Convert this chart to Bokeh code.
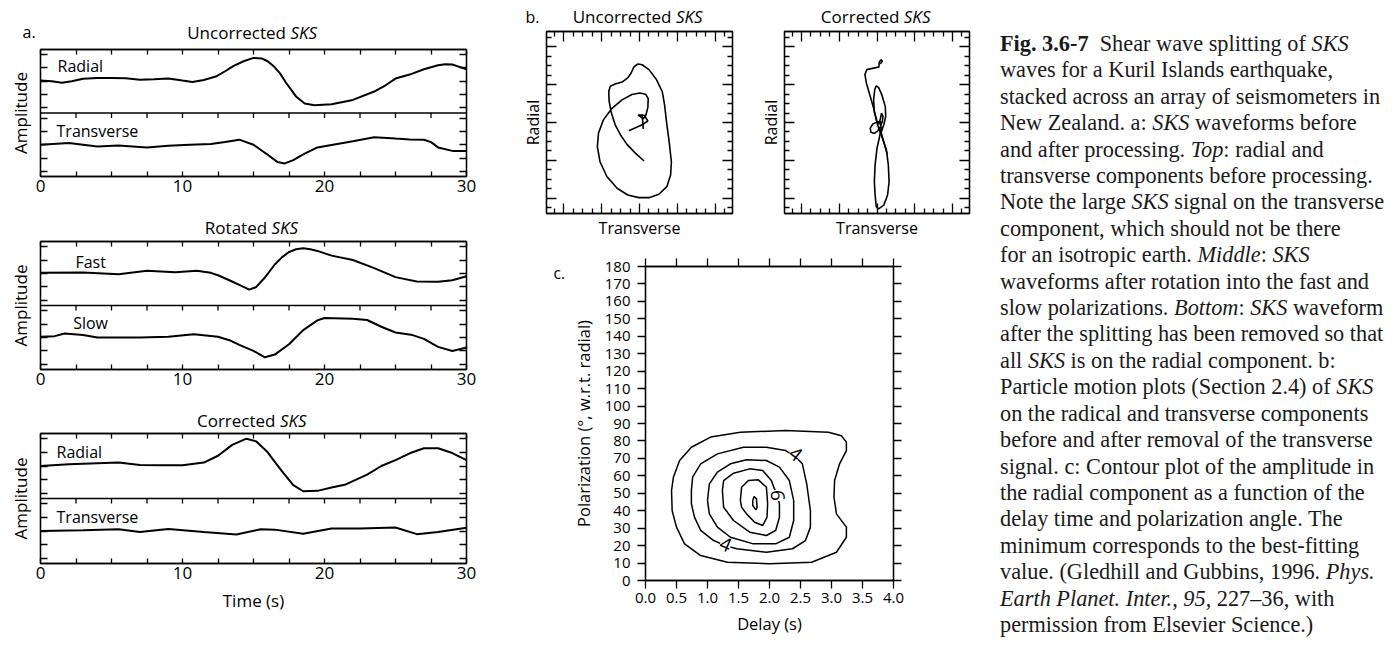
from bokeh.plotting import figure
from bokeh.models import (LinearAxis, FixedTicker, Range1d, Span, Label, Div,
                          PrintfTickFormatter)
from bokeh.core.properties import value
from bokeh.layouts import row, column
from bokeh.embed import file_html
from bokeh.resources import INLINE

FONT = "Open Sans"

# ---------------- data: panel a (waveforms) ----------------
unc_rad_t = [0, 0.8, 1.5, 2.2, 3, 4, 5, 6, 7, 8, 9, 10, 10.7, 11.5, 12.4, 13, 13.6, 14.3, 15, 15.6, 16.0,
             16.4, 16.9, 17.3, 17.7, 18.0, 18.6, 19.3, 20.5, 22, 23.5, 24.3, 25, 26, 27, 28, 28.5, 29, 29.5, 30]
unc_rad_v = [0.05, 0.0, -0.12, 0.0, 0.18, 0.24, 0.25, 0.22, 0.12, 0.15, 0.2, 0.05, -0.05, 0.1, 0.38, 0.75,
             1.15, 1.5, 1.75, 1.7, 1.5, 1.15, 0.55, -0.13, -0.7, -1.15, -1.67, -1.8, -1.72, -1.4, -0.77, -0.3,
             0.2, 0.5, 0.9, 1.2, 1.28, 1.25, 1.08, 0.9]
unc_tra_t = [0, 2, 4, 5.5, 7.5, 9, 10.5, 12, 13, 14, 15, 16, 16.7, 17.2, 17.8, 18.5, 19.5, 20.3, 22, 23.5,
             25, 26, 27, 27.5, 28, 29, 30]
unc_tra_v = [0, 0.13, -0.13, -0.05, -0.2, -0.07, 0, 0.05, 0.2, 0.38, 0.0, -0.75, -1.3, -1.4, -1.15, -0.72,
             -0.2, -0.05, 0.26, 0.56, 0.46, 0.4, 0.38, 0.2, -0.2, -0.46, -0.46]

fast_t = [0, 3, 5.5, 7.5, 9.5, 11, 12, 12.5, 13.3, 14, 14.7, 15.2, 15.8, 16.5, 17, 17.5, 18, 18.5, 19, 19.5,
          20.5, 22, 23.5, 25, 26.5, 28, 29, 30]
fast_v = [0.05, 0.07, -0.05, 0.2, 0.1, 0.2, 0.05, -0.13, -0.5, -0.85, -1.2, -1.0, -0.3, 0.67, 1.2, 1.6, 1.8,
          1.87, 1.8, 1.68, 1.33, 1.0, 0.4, -0.27, -0.6, -0.62, -0.5, -0.2]
slow_t = [0, 1, 1.7, 3, 4, 7, 9, 10.8, 12.5, 13.3, 14, 15, 15.8, 16.5, 17.5, 18.5, 19.5, 20, 22, 23, 24, 25,
          26.2, 27, 28, 29, 30]
slow_v = [0.05, 0.1, 0.3, 0.18, 0, 0, 0.05, 0.25, 0.05, -0.2, -0.55, -1.0, -1.47, -1.27, -0.5, 0.55, 1.27,
          1.45, 1.4, 1.3, 0.8, 0.37, 0.18, -0.1, -0.7, -1.0, -0.75]

cor_rad_t = [0, 2, 4, 5.5, 7, 8.5, 10, 11.5, 12.5, 13.5, 14.5, 15.2, 16, 16.5, 17, 17.8, 18.5, 19.5, 20.5,
             21.5, 23, 24, 25, 26, 27, 28, 29, 30]
cor_rad_v = [0, 0.12, 0.2, 0.25, 0.08, 0.05, 0.05, 0.25, 0.75, 1.55, 2.0, 1.8, 1.0, 0.3, -0.38, -1.4, -1.85,
             -1.82, -1.57, -1.35, -0.63, 0, 0.43, 0.93, 1.3, 1.3, 0.95, 0.43]
cor_tra_t = [0, 3, 5.5, 7, 9, 11.5, 13.8, 15.5, 16.5, 18.5, 20.5, 22.5, 25, 26.5, 28, 30]
cor_tra_v = [0, 0.05, 0.13, -0.08, 0.15, -0.08, -0.26, 0.13, 0.1, -0.2, 0.18, 0.18, 0.26, -0.23, -0.08, 0.23]

time_ticks = [0, 10, 20, 30]
time_minor = [2.5, 5, 7.5, 12.5, 15, 17.5, 22.5, 25, 27.5]

# ---------------- data: panel b (particle motion, transverse vs radial) ----------------
unc_pm_x = [[0.12, -0.11, -0.33, -0.50, -0.64, -0.74, -0.80, -0.81, -0.77, -0.64, -0.46, -0.31, -0.22, -0.15,
             -0.04, 0.07, 0.25, 0.45, 0.60, 0.66, 0.71, 0.78, 0.84, 0.82, 0.72, 0.51, 0.25, -0.02, -0.31, -0.59,
             -0.86, -1.04, -1.11, -1.08, -0.95, -0.74, -0.46, -0.20, 0.01, 0.16, 0.23, 0.22, 0.17, 0.10, -0.04,
             0.13, 0.22, 0.07, -0.28],
            [0.07, 0.10]]
unc_pm_y = [[-1.02, -0.81, -0.58, -0.33, -0.06, 0.25, 0.56, 0.82, 0.96, 1.02, 1.07, 1.18, 1.31, 1.47, 1.55,
             1.53, 1.40, 1.13, 0.82, 0.47, 0.03, -0.50, -1.04, -1.39, -1.70, -1.90, -1.99, -1.99, -1.92, -1.74,
             -1.43, -1.04, -0.64, -0.28, 0.07, 0.36, 0.60, 0.74, 0.78, 0.75, 0.63, 0.40, 0.20, 0.10, 0.20,
             0.19, 0.04, -0.06, -0.22],
            [0.22, -0.17]]

cor_pm_x = [[0.09, 0.14, 0.11, 0.06, 0.05, -0.09, -0.27, -0.32, -0.28, -0.19, -0.09, -0.02, 0.05, 0.13, 0.20, 0.27],
            [0.00, -0.07, -0.09, -0.06, -0.02, 0.04, 0.13, 0.22, 0.23, 0.18, 0.11, 0.16, 0.25, 0.30, 0.32, 0.28,
             0.18, 0.04, -0.02, -0.05, -0.07, -0.05, 0.00, 0.07, 0.11, 0.09, 0.00, -0.11, -0.18, -0.16, -0.07,
             0.02, 0.09, 0.14, 0.16, 0.12, 0.09, 0.04]]
cor_pm_y = [[1.55, 1.62, 1.66, 1.60, 1.47, 1.44, 1.40, 1.27, 1.04, 0.73, 0.38, 0.07, -0.17, -0.37, -0.59, -0.84],
            [0.03, 0.29, 0.60, 0.87, 0.97, 0.93, 0.73, 0.42, 0.16, -0.06, -0.26, -0.46, -0.73, -1.12, -1.57,
             -1.92, -2.19, -2.29, -2.23, -1.92, -1.57, -1.12, -0.68, -0.37, -0.15, 0.03, 0.01, -0.04, -0.15,
             -0.26, -0.29, -0.22, -0.11, 0.03, 0.16, 0.25, 0.10, -0.06]]

pm_major = [-2, -1, 0, 1, 2]
pm_minor = [-2.25, -1.75, -1.5, -1.25, -0.75, -0.5, -0.25, 0.25, 0.5, 0.75, 1.25, 1.5, 1.75, 2.25]

# ---------------- data: panel c (contours of delay vs polarization) ----------------
contour_delay = [
    [0.55, 0.74, 1.05, 1.53, 2.26, 2.95, 3.16, 3.24, 3.24, 3.13, 3.05, 3.04, 3.08, 3.24, 3.24, 3.08, 2.68, 2.0,
     1.32, 0.89, 0.63, 0.5, 0.43, 0.42, 0.45, 0.55],
    [0.74, 0.76, 0.89, 1.16, 1.58, 1.95, 2.26, 2.42, 2.53, 2.6, 2.66, 2.66, 2.58, 2.37, 1.95, 1.47, 1.29, 1.1,
     0.89, 0.79, 0.74, 0.74],
    [1.0, 1.03, 1.16, 1.37, 1.63, 1.95, 2.16, 2.32, 2.39, 2.39, 2.32, 2.1, 1.74, 1.37, 1.16, 1.03, 1.0],
    [1.24, 1.26, 1.42, 1.68, 1.89, 2.03, 2.08, 2.13, 2.16, 2.16, 2.1, 1.95, 1.68, 1.42, 1.26, 1.24],
    [1.53, 1.55, 1.66, 1.82, 1.95, 1.97, 1.96, 1.89, 1.76, 1.63, 1.55, 1.53],
    [1.73, 1.75, 1.79, 1.8, 1.78, 1.73, 1.73],
]
contour_pol = [
    [68.8, 76.4, 82.2, 85, 86, 85, 83, 79.3, 74.5, 66.9, 57.3, 47.8, 38.2, 30.6, 24.8, 16.2, 10.5, 9.6, 10.5,
     14.3, 21, 30.6, 40, 51.6, 59.2, 68.8],
    [51.6, 59.2, 66.9, 72.6, 76.4, 76.4, 74.5, 71, 66.9, 55.4, 40.1, 30.6, 22.9, 18.2, 16.2, 18.2, 20, 22.9,
     28.7, 36.3, 44, 51.6],
    [45.9, 55.4, 62.1, 66.9, 69.2, 68.8, 65, 57.3, 45.9, 34.4, 24.8, 21, 21, 24.8, 30.6, 38.2, 45.9],
    [51.6, 57.3, 61.5, 64, 63, 57.3, 52.5, 48.5, 44, 36.3, 28.7, 25.8, 27.7, 34.4, 42, 51.6],
    [45.9, 53.5, 57.3, 57.7, 53.5, 44, 36.3, 31.5, 33.4, 38.2, 42, 45.9],
    [45.9, 48.2, 46.8, 42, 40.5, 43, 45.9],
]
contour_label_text = ["4", "4", "6"]
contour_label_delay = [2.42, 1.29, 2.13]
contour_label_pol = [72.5, 20.5, 48.7]
contour_label_angle = [-0.65, -0.4, -1.57]

delay_ticks = [0, 0.5, 1.0, 1.5, 2.0, 2.5, 3.0, 3.5, 4.0]
pol_ticks = list(range(0, 181, 10))

caption_lines = [
    "<b>Fig. 3.6-7</b>&nbsp; Shear wave splitting of <i>SKS</i>",
    "waves for a Kuril Islands earthquake,",
    "stacked across an array of seismometers in",
    "New Zealand. a: <i>SKS</i> waveforms before",
    "and after processing. <i>Top</i>: radial and",
    "transverse components before processing.",
    "Note the large <i>SKS</i> signal on the transverse",
    "component, which should not be there",
    "for an isotropic earth. <i>Middle</i>: <i>SKS</i>",
    "waveforms after rotation into the fast and",
    "slow polarizations. <i>Bottom</i>: <i>SKS</i> waveform",
    "after the splitting has been removed so that",
    "all <i>SKS</i> is on the radial component. b:",
    "Particle motion plots (Section 2.4) of <i>SKS</i>",
    "on the radical and transverse components",
    "before and after removal of the transverse",
    "signal. c: Contour plot of the amplitude in",
    "the radial component as a function of the",
    "delay time and polarization angle. The",
    "minimum corresponds to the best-fitting",
    "value. (Gledhill and Gubbins, 1996. <i>Phys.</i>",
    "<i>Earth Planet. Inter.</i>, <i>95</i>, 227–36, with",
    "permission from Elsevier Science.)",
]


# ---------------- helpers ----------------
def style_axis(ax, tin, tout, min_in=0, min_out=0, labels=False, size="17px", standoff=3):
    ax.major_tick_in = tin
    ax.major_tick_out = tout
    ax.minor_tick_in = min_in
    ax.minor_tick_out = min_out
    ax.axis_line_color = "black"
    ax.axis_line_width = 1.3
    ax.major_tick_line_color = "black"
    ax.major_tick_line_width = 1.3
    ax.minor_tick_line_color = "black"
    ax.minor_tick_line_width = 1.3
    ax.major_label_text_font = FONT
    if labels:
        ax.major_label_text_color = "black"
        ax.major_label_text_font_size = size
        ax.major_label_standoff = standoff
    else:
        ax.major_label_text_color = None
        ax.major_label_text_font_size = "1px"
        ax.major_label_standoff = 0
    ax.axis_label_text_font = FONT
    ax.axis_label_text_font_style = "normal"
    ax.axis_label_text_color = "black"


def label(p, x, y, text, size="16px", align="left", style="normal", angle=0.0, yr="default", bg=None):
    lab = Label(x=x, y=y, text=text, text_font=FONT, text_font_size=size, text_align=align,
                text_baseline="middle", text_font_style=style, angle=angle, text_color="black",
                y_range_name=yr)
    if bg is not None:
        lab.background_fill_color = bg
    p.add_layout(lab)


def header(width, height, items):
    """A text strip; coordinates are pixels from its top-left corner."""
    h = figure(width=width, height=height, x_range=Range1d(0, width), y_range=Range1d(height, 0),
               x_axis_type=None, y_axis_type=None, min_border=0, output_backend="svg",
               toolbar_location=None)
    h.frame_align = False
    h.outline_line_color = None
    h.background_fill_color = None
    h.border_fill_color = None
    for x, y, txt, style, align, size in items:
        h.text(x=[x], y=[y], text=[txt], text_font=value(FONT), text_font_size=value(size),
               text_font_style=value(style), text_align=value(align), text_baseline=value("middle"),
               text_color="black")
    return h


R = 2.38  # half-height of each trace strip


def wave_panel(height, btop, bbot, strip_labels, top_t, top_v, bot_t, bot_v, xlabel=None):
    p = figure(width=480, height=height, x_range=Range1d(0, 30), y_range=Range1d(-R, 3 * R),
               x_axis_type=None, y_axis_type=None, min_border_left=40, min_border_right=14,
               min_border_top=btop, min_border_bottom=bbot, output_backend="svg", toolbar_location=None)
    p.extra_y_ranges = {"top": Range1d(-3 * R, R)}
    p.outline_line_color = "black"
    p.outline_line_width = 1.3
    p.background_fill_color = None
    p.border_fill_color = None
    frame_h = height - btop - bbot
    upp = 4 * R / frame_h  # data units per pixel (y)

    xb = LinearAxis(ticker=FixedTicker(ticks=time_ticks, minor_ticks=time_minor))
    style_axis(xb, 5, 0, 5, 0, labels=True, size="17px", standoff=3)
    if xlabel:
        xb.axis_label = xlabel
        xb.axis_label_text_font_size = "17px"
        xb.axis_label_standoff = 7
    p.add_layout(xb, "below")
    xt = LinearAxis(ticker=FixedTicker(ticks=time_ticks, minor_ticks=time_minor))
    style_axis(xt, 5, 0, 5, 0)
    p.add_layout(xt, "above")

    yt = [-2, -1, 0, 1, 2] + [2 * R + k for k in (-2, -1, 0, 1, 2)]
    yl = LinearAxis(ticker=FixedTicker(ticks=yt))
    style_axis(yl, 7, 0)
    yl.axis_label = "Amplitude"
    yl.axis_label_text_font_size = "17px"
    yl.axis_label_standoff = 9
    p.add_layout(yl, "left")
    yr = LinearAxis(ticker=FixedTicker(ticks=yt))
    style_axis(yr, 7, 0)
    p.add_layout(yr, "right")

    p.add_layout(Span(location=R, dimension="width", line_color="black", line_width=1.3))
    tick_x = time_ticks[1:-1] + time_minor
    p.segment(x0=tick_x, y0=[R] * len(tick_x), x1=tick_x, y1=[R - 5 * upp] * len(tick_x),
              line_color="black", line_width=1.3)

    p.line(top_t, top_v, y_range_name="top", line_color="black", line_width=2)
    p.line(bot_t, bot_v, line_color="black", line_width=2)

    (lt, lx, ly), (bt, bx, by) = strip_labels
    label(p, lx, ly, lt, yr="top")
    label(p, bx, by, bt)
    return p


hA1 = header(480, 44, [(22, 31, "a.", "normal", "left", "16px"),
                       (285.5, 32, "Uncorrected", "normal", "right", "17px"),
                       (290, 32, "SKS", "italic", "left", "17px")])
figA1 = wave_panel(162, 5, 30, (("Radial", 1.2, 1.16), ("Transverse", 1.13, 1.06)),
                   unc_rad_t, unc_rad_v, unc_tra_t, unc_tra_v)
hA2 = header(480, 33, [(266.6, 21, "Rotated", "normal", "right", "17px"),
                       (271, 21, "SKS", "italic", "left", "17px")])
figA2 = wave_panel(160, 2, 30, (("Fast", 2.46, 0.86), ("Slow", 2.3, 1.05)),
                   fast_t, fast_v, slow_t, slow_v)
hA3 = header(480, 32, [(275, 21, "Corrected", "normal", "right", "17px"),
                       (279.4, 21, "SKS", "italic", "left", "17px")])
figA3 = wave_panel(215, 2, 83, (("Radial", 1.13, 1.0), ("Transverse", 1.13, 1.0)),
                   cor_rad_t, cor_rad_v, cor_tra_t, cor_tra_v, xlabel="Time (s)")


def pm_panel(width, bl, br, xs, ys):
    p = figure(width=width, height=215, x_range=Range1d(-2.45, 2.45), y_range=Range1d(-2.41, 2.41),
               x_axis_type=None, y_axis_type=None, min_border_left=bl, min_border_right=br,
               min_border_top=3, min_border_bottom=30, output_backend="svg", toolbar_location=None)
    p.outline_line_color = "black"
    p.outline_line_width = 1.3
    p.background_fill_color = None
    p.border_fill_color = None
    for side in ("below", "above", "left", "right"):
        ax = LinearAxis(ticker=FixedTicker(ticks=pm_major, minor_ticks=pm_minor))
        style_axis(ax, 10, 0, 5, 0)
        if side == "below":
            ax.axis_label = "Transverse"
            ax.axis_label_text_font_size = "16px"
            ax.axis_label_standoff = 3
        if side == "left":
            ax.axis_label = "Radial"
            ax.axis_label_text_font_size = "16px"
            ax.axis_label_standoff = 3
        p.add_layout(ax, side)
    p.multi_line(xs, ys, line_color="black", line_width=1.6)
    return p


hB = header(510, 28, [(45, 16, "b.", "normal", "left", "16px"),
                      (191, 16, "Uncorrected", "normal", "right", "17px"),
                      (195.5, 16, "SKS", "italic", "left", "17px"),
                      (418.9, 16, "Corrected", "normal", "right", "17px"),
                      (423.3, 16, "SKS", "italic", "left", "17px")])
figB1 = pm_panel(267, 66, 15, unc_pm_x, unc_pm_y)
figB2 = pm_panel(243, 37, 21, cor_pm_x, cor_pm_y)

# ---------------- panel c ----------------
hC = header(88, 403, [(73, 29, "c.", "normal", "left", "15.5px")])
figC = figure(width=422, height=403, x_range=Range1d(0, 4), y_range=Range1d(0, 180),
              x_axis_type=None, y_axis_type=None, min_border_left=72, min_border_right=97,
              min_border_top=23, min_border_bottom=66, output_backend="svg", toolbar_location=None)
figC.outline_line_color = "black"
figC.outline_line_width = 1.3
figC.background_fill_color = None
figC.border_fill_color = None
cb = LinearAxis(ticker=FixedTicker(ticks=delay_ticks), formatter=PrintfTickFormatter(format="%.1f"))
style_axis(cb, 0, 8, labels=True, size="15px", standoff=4)
cb.axis_label = "Delay (s)"
cb.axis_label_text_font_size = "16.5px"
cb.axis_label_standoff = 6
figC.add_layout(cb, "below")
ct = LinearAxis(ticker=FixedTicker(ticks=delay_ticks))
style_axis(ct, 0, 8)
figC.add_layout(ct, "above")
cl = LinearAxis(ticker=FixedTicker(ticks=pol_ticks))
style_axis(cl, 0, 8, labels=True, size="15px", standoff=7)
cl.axis_label = "Polarization (°, w.r.t. radial)"
cl.axis_label_text_font_size = "16.5px"
cl.axis_label_standoff = 7
figC.add_layout(cl, "left")
cr = LinearAxis(ticker=FixedTicker(ticks=pol_ticks))
style_axis(cr, 0, 8)
figC.add_layout(cr, "right")

figC.multi_line(contour_delay, contour_pol, line_color="black", line_width=1.5)
for txt, d, pol, ang in zip(contour_label_text, contour_label_delay, contour_label_pol, contour_label_angle):
    label(figC, d, pol, txt, size="19px", align="center", angle=ang, bg="white")

# ---------------- caption ----------------
cap_html = ("<div style=\"font-family:'Liberation Serif',serif;font-size:22.3px;line-height:26.4px;"
            "color:#1a1a1a;white-space:nowrap;margin-left:5px;margin-top:26px;\">"
            + "<br>".join(caption_lines) + "</div>")
caption = Div(text=cap_html, width=408, height=646)

colA = column(hA1, figA1, hA2, figA2, hA3, figA3)
colB = column(hB, row(figB1, figB2), row(hC, figC))
layout = row(colA, colB, caption)

open("out.html", "w").write(file_html(layout, INLINE))
